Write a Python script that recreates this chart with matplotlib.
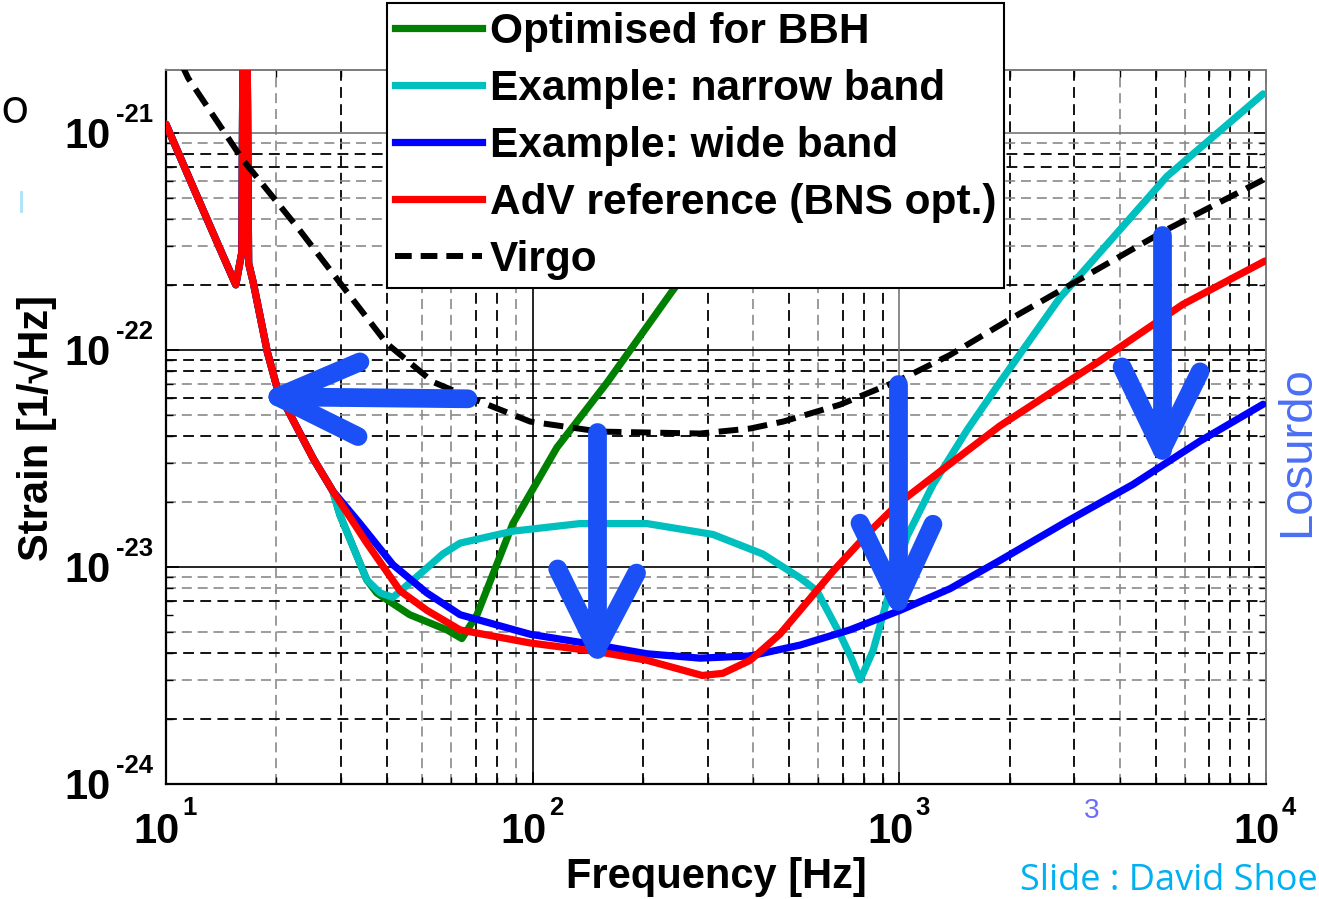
import numpy as np
import matplotlib
matplotlib.use("Agg")
import matplotlib.pyplot as plt
from matplotlib.lines import Line2D
from matplotlib.font_manager import FontProperties

# ---------------- data (frequency in Hz, log10 of strain in 1/sqrt(Hz)) ----------------
# shared low-frequency part (seismic wall + suspension resonance spike)
f_low = [10, 12, 14, 15.5, 16.1, 16.4, 16.8, 17.3, 18.9, 20.2, 22.8, 25.2, 28.5]
lh_low = [-20.96, -21.27, -21.53, -21.70, -21.55, -19.0, -21.6, -21.69, -22.01, -22.19, -22.36,
          -22.50, -22.65]

f_red = [35.3, 43.5, 51.5, 63.4, 98.4, 150, 205, 250, 290, 330, 392, 472, 536, 659, 832, 990,
         1291, 1880, 3525, 5932, 9940]
lh_red = [-22.89, -23.11, -23.20, -23.29, -23.35, -23.39, -23.43, -23.47, -23.50, -23.49, -23.43,
          -23.31, -23.20, -23.02, -22.835, -22.71, -22.56, -22.35, -22.05, -21.79, -21.59]

f_blue = [33.8, 41.6, 51.5, 63.4, 98.4, 150, 205, 286, 392, 536, 733, 1004, 1375, 1880, 2864,
          4335, 6607, 9820]
lh_blue = [-22.80, -22.99, -23.12, -23.22, -23.31, -23.36, -23.40, -23.42, -23.41, -23.36, -23.29,
           -23.20, -23.10, -22.97, -22.79, -22.62, -22.42, -22.25]

f_cyan = [29.8, 35.3, 38.4, 41.6, 47.2, 56.9, 63.4, 88.3, 134.6, 205, 310, 424, 536, 596, 689,
          740, 782, 848, 925, 1049, 1236, 1529, 1879, 2740, 5370, 9820]
lh_cyan = [-22.76, -23.06, -23.12, -23.14, -23.06, -22.94, -22.89, -22.835, -22.80, -22.80, -22.85,
           -22.94, -23.05, -23.11, -23.31, -23.42, -23.52, -23.385, -23.156, -22.86, -22.62,
           -22.37, -22.15, -21.76, -21.20, -20.82]

f_green = [29.8, 35.3, 37.6, 46.2, 58.4, 64.1, 70.5, 88.3, 116.4, 159.6, 240, 536]
lh_green = [-22.76, -23.06, -23.12, -23.22, -23.29, -23.33, -23.22, -22.80, -22.45, -22.15,
            -21.73, -20.95]

f_virgo = [11.0, 11.5, 16.2, 23.2, 31.2, 40.0, 53.4, 68.7, 98.4, 152, 286, 392, 482, 689, 1004,
           1375, 2004, 2417, 5370, 9820]
lh_virgo = [-20.68, -20.748, -21.124, -21.45, -21.734, -21.97, -22.147, -22.225, -22.33, -22.376,
            -22.385, -22.362, -22.33, -22.252, -22.138, -22.023, -21.858, -21.78, -21.445, -21.216]

labels = ["Optimised for BBH", "Example: narrow band", "Example: wide band",
          "AdV reference (BNS opt.)", "Virgo"]
colors = ["#008000", "#00BFBF", "#0000FF", "#FF0000", "#000000"]

x_ticks = [10, 100, 1000, 10000]
x_exps = ["1", "2", "3", "4"]
y_ticks = [1e-24, 1e-23, 1e-22, 1e-21]
y_exps = ["-24", "-23", "-22", "-21"]

# grid lines (the source image mixes darker and lighter dashed minor lines)
xgrid_dark = [30, 40, 70, 80, 200, 300, 500, 700, 800, 900, 2000, 3000, 5000, 7000, 8000, 9000]
xgrid_light = [20, 50, 60, 90, 400, 600, 4000, 6000]
ygrid_dark = [2e-24, 4e-24, 7e-24, 4e-23, 6e-23, 8e-23, 9e-23, 2e-22, 7e-22, 8e-22]
ygrid_light = [3e-24, 5e-24, 8e-24, 9e-24, 2e-23, 3e-23, 5e-23, 7e-23, 3e-22, 4e-22, 5e-22,
               6e-22, 9e-22]

# annotation arrows: (tail, tip, barb1, barb2) in (Hz, log10 strain)
arrows = [
    ((66.6, -22.225), (20.2, -22.216), (33.8, -22.055), (33.4, -22.399)),
    ((149.6, -22.376), (149.6, -23.376), (117, -23.009), (192, -23.028)),
    ((990, -22.156), (990, -23.156), (781, -22.798), (1235, -22.803)),
    ((5200, -21.468), (5200, -22.459), (4050, -22.078), (6607, -22.101)),
]

# ---------------- figure ----------------
W, H = 1319, 899
fig = plt.figure(figsize=(W / 100, H / 100), dpi=100)
ax = fig.add_axes([166 / W, 1 - 784 / H, 1100 / W, 714 / H])
ax.set_xscale("log")
ax.set_yscale("log")
ax.set_xlim(10, 1e4)
ax.set_ylim(1e-24, 1.95e-21)

BOLD = dict(family=["Liberation Sans", "DejaVu Sans"], weight="bold")

ax.tick_params(which="both", direction="in", top=True, right=True,
               labelbottom=False, labelleft=False, color="black")
ax.tick_params(which="major", length=9, width=1.2)
ax.tick_params(which="minor", length=5, width=1.0)

for s in ["left", "bottom"]:
    ax.spines[s].set_color("black")
    ax.spines[s].set_linewidth(1.6)
for s in ["top", "right"]:
    ax.spines[s].set_color("#7a7a7a")
    ax.spines[s].set_linewidth(1.4)

# grid
for v in xgrid_dark:
    ax.axvline(v, color="black", lw=1.3, dashes=(6, 3.5), zorder=1)
for v in xgrid_light:
    ax.axvline(v, color="#8a8a8a", lw=1.2, dashes=(6, 3.5), zorder=1)
for v in ygrid_dark:
    ax.axhline(v, color="black", lw=1.3, dashes=(6, 3.5), zorder=1)
for v in ygrid_light:
    ax.axhline(v, color="#8a8a8a", lw=1.2, dashes=(6, 3.5), zorder=1)
ax.axhline(1e-22, color="black", lw=1.2, zorder=1)
ax.axhline(1e-23, color="black", lw=1.2, zorder=1)
ax.axhline(1e-21, color="#777777", lw=1.2, zorder=1)
ax.axvline(100, color="black", lw=1.2, zorder=1)
ax.axvline(1000, color="#777777", lw=1.2, zorder=1)

def series(f_extra, lh_extra, shared=True):
    f = (f_low + f_extra) if shared else f_extra
    lh = (lh_low + lh_extra) if shared else lh_extra
    return np.array(f), 10.0 ** np.array(lh)

LW = 5.2
kw = dict(lw=LW, solid_joinstyle="round", solid_capstyle="round", zorder=3)
fg, hg = series(f_green, lh_green)
fc, hc = series(f_cyan, lh_cyan)
fb, hb = series(f_blue, lh_blue)
fr, hr = series(f_red, lh_red)
fv, hv = series(f_virgo, lh_virgo, shared=False)
ax.plot(fg, hg, color=colors[0], **kw)
ax.plot(fc, hc, color=colors[1], **kw)
ax.plot(fb, hb, color=colors[2], **kw)
ax.plot(fr, hr, color=colors[3], **kw)
ax.plot(fv, hv, color=colors[4], lw=4.3, dashes=(3.3, 1.6), zorder=4)

# arrows
ARC = "#1a50f5"
for tail, tip, b1, b2 in arrows:
    for a in (tail, b1, b2):
        ax.plot([a[0], tip[0]], [10 ** a[1], 10 ** tip[1]], color=ARC, lw=13.5,
                solid_capstyle="round", zorder=6, clip_on=False)
    mid1 = (10 ** ((np.log10(b1[0]) + np.log10(tip[0])) / 2), (b1[1] + tip[1]) / 2)
    mid2 = (10 ** ((np.log10(b2[0]) + np.log10(tip[0])) / 2), (b2[1] + tip[1]) / 2)
    ax.fill([tip[0], mid1[0], mid2[0]], [10 ** tip[1], 10 ** mid1[1], 10 ** mid2[1]],
            color=ARC, lw=0, zorder=6)

# tick labels ("10" + small exponent)
PX = 0.72
for v, e in zip(x_ticks, x_exps):
    ax.annotate("10", xy=(v, 0), xycoords=("data", "axes fraction"),
                xytext=(14 * PX, -59 * PX), textcoords="offset points",
                ha="right", va="baseline", fontsize=30, annotation_clip=False, **BOLD)
    ax.annotate(e, xy=(v, 0), xycoords=("data", "axes fraction"),
                xytext=(16 * PX, -31 * PX), textcoords="offset points",
                ha="left", va="baseline", fontsize=18.5, annotation_clip=False, **BOLD)
for v, e in zip(y_ticks, y_exps):
    ax.annotate("10", xy=(0, v), xycoords=("axes fraction", "data"),
                xytext=(-55 * PX, -15 * PX), textcoords="offset points",
                ha="right", va="baseline", fontsize=30, annotation_clip=False, **BOLD)
    ax.annotate(e, xy=(0, v), xycoords=("axes fraction", "data"),
                xytext=(-50 * PX, 11 * PX), textcoords="offset points",
                ha="left", va="baseline", fontsize=18.5, annotation_clip=False, **BOLD)

# axis labels
fig.text(716 / W, 1 - 888 / H, "Frequency [Hz]", ha="center", va="baseline", fontsize=30, **BOLD)
fig.text(36 / W, 1 - 428 / H, "Strain [1/\u221aHz]", ha="center", va="center", rotation=90,
         fontsize=30, **BOLD)

# legend
handles = [Line2D([], [], color=colors[i], lw=LW) for i in range(4)]
handles.append(Line2D([], [], color="black", lw=4.3, dashes=(2.8, 1.5)))
leg = fig.legend(handles, labels, loc="lower left", bbox_to_anchor=(387 / W, 1 - 288 / H),
                 bbox_transform=fig.transFigure, borderaxespad=0, frameon=True, fancybox=False,
                 edgecolor="black", framealpha=1,
                 prop=FontProperties(family="Liberation Sans", weight="bold", size=30.5),
                 handlelength=2.05, handletextpad=0.17, labelspacing=0.40, borderpad=0.2)
leg.get_frame().set_linewidth(1.5)

# slide decorations
fig.text(0 / W, 1 - 123 / H, "o", fontsize=34, family="Open Sans", ha="left", va="baseline")
fig.add_artist(Line2D([21 / W, 21 / W], [1 - 192 / H, 1 - 211 / H], color="#a8e4fa", lw=2))
fig.text(1092 / W, 1 - 818 / H, "3", color="#6b6bff", fontsize=20, family="Liberation Sans",
         ha="center", va="baseline")
fig.text(1318 / W, 1 - 890 / H, "Slide : David Shoe", color="#00B0F0", fontsize=26,
         family="Open Sans", ha="right", va="baseline")
fig.text(1297 / W, 1 - 452 / H, "Losurdo", rotation=90, color="#4a6ef5", fontsize=34,
         family="Liberation Sans", ha="center", va="center")

fig.savefig("out.png", dpi=100)
